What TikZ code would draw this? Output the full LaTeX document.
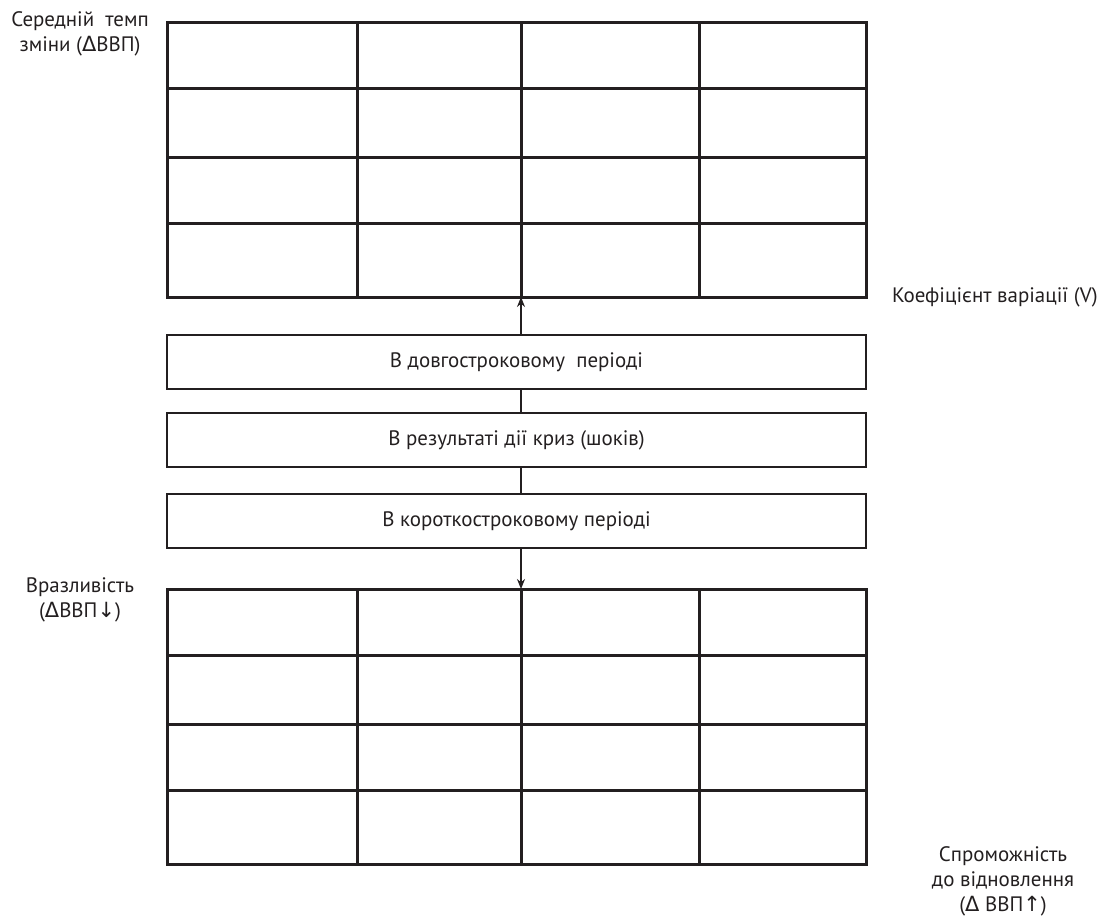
\documentclass[tikz,border=0pt]{standalone}
\usepackage{fontspec}
\setmainfont{PT Sans}
\newfontfamily\symf{DejaVu Sans}
\usetikzlibrary{arrows.meta}
\definecolor{ink}{HTML}{231F20}
\begin{document}
\begin{tikzpicture}[x=0.5bp,y=-0.5bp,
  gridline/.style={draw=ink,line width=1.5bp,line cap=rect},
  boxnode/.style={draw=ink,line width=1.1bp,minimum width=349.5bp,minimum height=27bp,inner sep=0,font=\fontsize{10.5}{12.6}\selectfont,text=ink},
  lbl/.style={align=center,font=\fontsize{10.5}{12.5}\selectfont,text=ink,inner sep=0},
  conn/.style={draw=ink,line width=0.7bp},
  tipend/.style={-{Stealth[length=5bp,width=4bp]}}
]
\useasboundingbox (0,0) rectangle (1100,924);
% top grid
\foreach \y in {22,88,157,223,297} \draw[gridline] (167,\y) -- (866,\y);
\foreach \x in {167,357,521,699,866} \draw[gridline] (\x,22) -- (\x,297);
% bottom grid
\foreach \y in {589,655,724,790,864} \draw[gridline] (167,\y) -- (866,\y);
\foreach \x in {167,357,521,699,866} \draw[gridline] (\x,589) -- (\x,864);
\coordinate (ta) at (521,297);
\coordinate (ba) at (521,589);
% boxes
\node[boxnode] (b1) at (516.5,362) {В довгостроковому\ \ періоді};
\node[boxnode] (b2) at (516.5,440) {В результаті дії криз (шоків)};
\node[boxnode] (b3) at (516.5,521) {В короткостроковому періоді};
% connectors
\draw[conn,tipend] (b1.north -| ta) -- (ta);
\draw[conn] (b1.south -| ta) -- (b2.north -| ta);
\draw[conn] (b2.south -| ta) -- (b3.north -| ta);
\draw[conn,tipend] (b3.south -| ba) -- (ba);
% labels
\node[lbl] (l1) at (80,34) {Середній\ \ темп\\зміни ({\symf Δ}ВВП)};
\node[lbl] (l2) at (995,297) {Коефіцієнт варіації (V)};
\node[lbl] (l3) at (80,600) {Вразливість\\({\symf Δ}ВВП{\symf ↓})};
\node[lbl] (l4) at (1003,881) {Спроможність\\до відновлення\\({\symf Δ} ВВП{\symf ↑})};
\end{tikzpicture}
\end{document}
